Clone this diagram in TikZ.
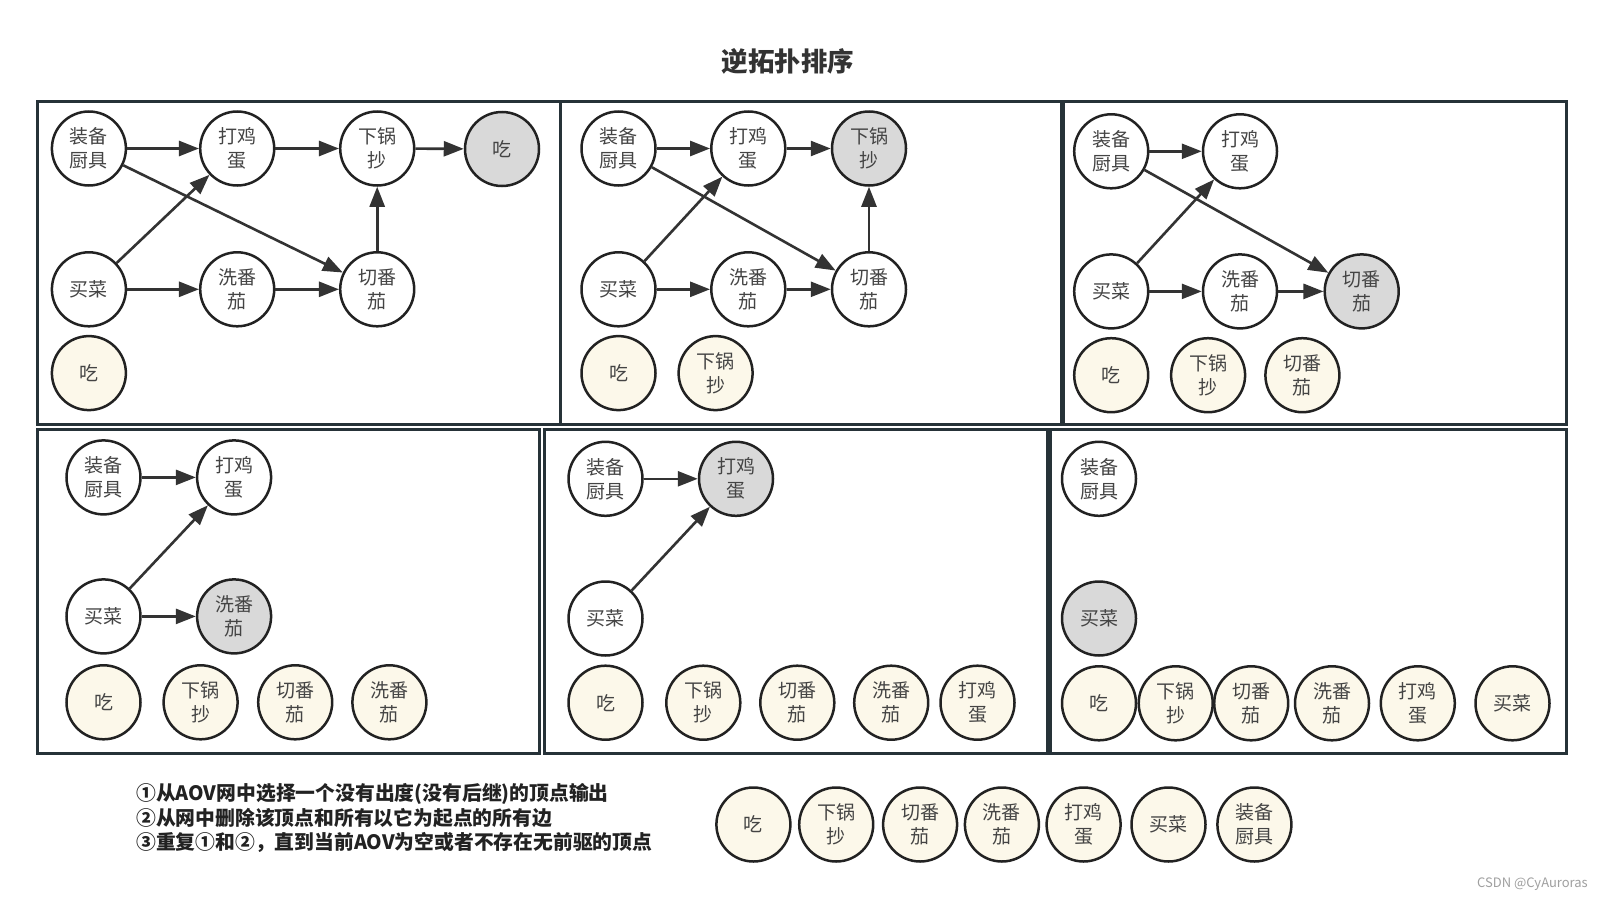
\documentclass[tikz,border=0pt]{standalone}
\usepackage{fontspec}
\newfontfamily\cjk{Noto Sans CJK SC}
\usetikzlibrary{shapes.geometric,arrows.meta}
\definecolor{linec}{HTML}{222222}
\definecolor{edgec}{HTML}{333333}
\definecolor{textc}{HTML}{444444}
\definecolor{grayc}{HTML}{D9D9D9}
\definecolor{creamc}{HTML}{FCF8EA}
\definecolor{panelc}{HTML}{263238}
\definecolor{wmc}{HTML}{A0A0A0}
\tikzset{
  vtx/.style={circle, draw=linec, line width=2.5pt, minimum size=74pt, inner sep=0pt,
    fill=white, text=textc, align=center, font=\cjk\fontsize{19}{24}\selectfont},
  donev/.style={vtx, fill=grayc},
  outv/.style={vtx, fill=creamc},
  edge/.style={draw=edgec, line width=2.6pt, -{Triangle[length=20pt,width=15pt]}},
  panel/.style={draw=panelc, line width=3pt},
}
\begin{document}
\begin{tikzpicture}[x=1pt,y=-1pt]
\path[use as bounding box, fill=white] (0,0) rectangle (1603,902);

\node[font=\cjk\bfseries\fontsize{26.5}{30}\selectfont, text=edgec] (title) at (788,61) {逆拓扑排序};

% panels
\draw[panel] (37.8,101.2) rectangle (560.2,424.3);
\draw[panel] (560.2,101.2) rectangle (1061.1,424.3);
\draw[panel] (1063.2,101.2) rectangle (1566.2,424.3);
\draw[panel] (37.8,429.4) rectangle (539.8,753.4);
\draw[panel] (544.9,429.4) rectangle (1047.9,753.4);
\draw[panel] (1050.9,429.4) rectangle (1566.2,753.4);

% ---- panel 1
\node[vtx] (a1) at (88.9,148.5) {装备\\厨具};
\node[vtx] (b1) at (237.2,148.5) {打鸡\\蛋};
\node[vtx] (c1) at (377.2,148.5) {下锅\\抄};
\node[donev] (d1) at (502,149) {吃};
\node[vtx] (e1) at (88.9,289.3) {买菜};
\node[vtx] (f1) at (237.2,289.3) {洗番\\茄};
\node[vtx] (g1) at (377.2,289.3) {切番\\茄};
\node[outv] (h1) at (88.9,373.1) {吃};
\draw[edge] (a1) -- (b1);
\draw[edge] (b1) -- (c1);
\draw[edge] (c1) -- (d1);
\draw[edge] (a1) -- (g1);
\draw[edge] (e1) -- (b1);
\draw[edge] (e1) -- (f1);
\draw[edge] (f1) -- (g1);
\draw[edge] (g1) -- (c1);

% ---- panel 2
\node[vtx] (a2) at (618.5,148.5) {装备\\厨具};
\node[vtx] (b2) at (748.3,148.5) {打鸡\\蛋};
\node[donev] (c2) at (869,148.5) {下锅\\抄};
\node[vtx] (e2) at (618.5,289.3) {买菜};
\node[vtx] (f2) at (748.3,289.3) {洗番\\茄};
\node[vtx] (g2) at (869,289.3) {切番\\茄};
\node[outv] (h2) at (618.5,373.1) {吃};
\node[outv] (i2) at (715.6,373.1) {下锅\\抄};
\draw[edge] (a2) -- (b2);
\draw[edge] (b2) -- (c2);
\draw[edge] (a2) -- (g2);
\draw[edge] (e2) -- (b2);
\draw[edge] (e2) -- (f2);
\draw[edge] (f2) -- (g2);
\draw[edge] (g2) -- (c2);

% ---- panel 3
\node[vtx] (a3) at (1111.2,151.3) {装备\\厨具};
\node[vtx] (b3) at (1240,151.3) {打鸡\\蛋};
\node[vtx] (e3) at (1111.2,291.4) {买菜};
\node[vtx] (f3) at (1240,291.4) {洗番\\茄};
\node[donev] (g3) at (1361.7,291.4) {切番\\茄};
\node[outv] (h3) at (1111.2,375.2) {吃};
\node[outv] (i3) at (1208.1,375.2) {下锅\\抄};
\node[outv] (j3) at (1302.4,375.2) {切番\\茄};
\draw[edge] (a3) -- (b3);
\draw[edge] (a3) -- (g3);
\draw[edge] (e3) -- (b3);
\draw[edge] (e3) -- (f3);
\draw[edge] (f3) -- (g3);

% ---- panel 4
\node[vtx] (a4) at (103.5,477.4) {装备\\厨具};
\node[vtx] (b4) at (234.1,477.4) {打鸡\\蛋};
\node[vtx] (e4) at (103.5,616.4) {买菜};
\node[donev] (f4) at (234.1,616.4) {洗番\\茄};
\node[outv] (h4) at (103.5,702.3) {吃};
\node[outv] (i4) at (200.6,702.3) {下锅\\抄};
\node[outv] (j4) at (295.2,702.3) {切番\\茄};
\node[outv] (k4) at (389.4,702.3) {洗番\\茄};
\draw[edge] (a4) -- (b4);
\draw[edge] (e4) -- (b4);
\draw[edge] (e4) -- (f4);

% ---- panel 5
\node[vtx] (a5) at (605.5,478.8) {装备\\厨具};
\node[donev] (b5) at (736,478.8) {打鸡\\蛋};
\node[vtx] (e5) at (605.5,618.5) {买菜};
\node[outv] (h5) at (605.5,702.7) {吃};
\node[outv] (i5) at (703.3,702.7) {下锅\\抄};
\node[outv] (j5) at (797.3,702.7) {切番\\茄};
\node[outv] (k5) at (891.2,702.7) {洗番\\茄};
\node[outv] (l5) at (977.5,702.7) {打鸡\\蛋};
\draw[edge] (a5) -- (b5);
\draw[edge] (e5) -- (b5);

% ---- panel 6
\node[vtx] (a6) at (1099,478.8) {装备\\厨具};
\node[donev] (e6) at (1099,618.5) {买菜};
\node[outv] (h6) at (1099,703.3) {吃};
\node[outv] (i6) at (1175.7,703.3) {下锅\\抄};
\node[outv] (j6) at (1251.2,703.3) {切番\\茄};
\node[outv] (k6) at (1332,703.3) {洗番\\茄};
\node[outv] (l6) at (1417.8,703.3) {打鸡\\蛋};
\node[outv] (m6) at (1512.5,703.3) {买菜};

% ---- final order
\node[outv] (r1) at (753.4,824.5) {吃};
\node[outv] (r2) at (836.2,824.5) {下锅\\抄};
\node[outv] (r3) at (920.1,824.5) {切番\\茄};
\node[outv] (r4) at (1001.9,824.5) {洗番\\茄};
\node[outv] (r5) at (1083.6,824.5) {打鸡\\蛋};
\node[outv] (r6) at (1168.5,824.5) {买菜};
\node[outv] (r7) at (1254.4,824.5) {装备\\厨具};

% ---- steps text
\node[anchor=west, align=left, inner sep=0pt, text=linec,
      font=\cjk\bfseries\fontsize{19.8}{24.2}\selectfont] (steps) at (136,818)
 {①从AOV网中选择一个没有出度(没有后继)的顶点输出\\
  ②从网中删除该顶点和所有以它为起点的所有边\\
  ③重复①和②，直到当前AOV为空或者不存在无前驱的顶点};

\node[anchor=east, inner sep=0pt, text=wmc, font=\cjk\fontsize{13}{15}\selectfont] (wm) at (1588,884) {CSDN @CyAuroras};
\end{tikzpicture}
\end{document}
